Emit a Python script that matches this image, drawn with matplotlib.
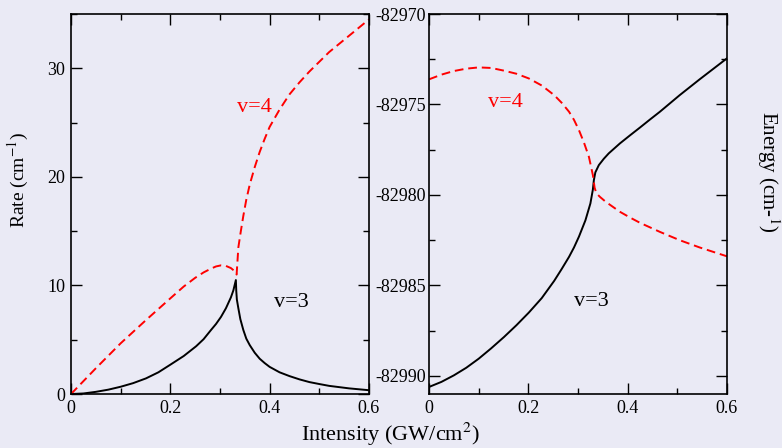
import numpy as np
import matplotlib
matplotlib.use("Agg")
from matplotlib import pyplot as plt
from matplotlib.ticker import MultipleLocator

plt.rcParams['font.family'] = ['Liberation Serif', 'DejaVu Serif']
plt.rcParams['mathtext.fontset'] = 'stix'
plt.rcParams['axes.unicode_minus'] = False

# rate vs intensity (left panel)
rate_x3 = [0, 0.025, 0.05, 0.075, 0.1, 0.125, 0.151, 0.176, 0.2, 0.227, 0.252, 0.267,
           0.282, 0.292, 0.302, 0.312, 0.322, 0.327, 0.332,
           0.3328, 0.334, 0.337, 0.341, 0.347, 0.353, 0.36, 0.37, 0.38, 0.39, 0.40,
           0.42, 0.44, 0.46, 0.48, 0.50, 0.52, 0.56, 0.6]
rate_v3 = [0, 0.05, 0.2, 0.4, 0.67, 1.0, 1.44, 2.0, 2.7, 3.5, 4.4, 5.05,
           5.9, 6.45, 7.1, 7.9, 8.9, 9.55, 10.5,
           9.5, 8.7, 7.9, 6.9, 5.9, 5.1, 4.5, 3.8, 3.25, 2.85, 2.5,
           2.0, 1.65, 1.35, 1.1, 0.92, 0.75, 0.52, 0.35]
rate_x4 = [0, 0.05, 0.1, 0.151, 0.2, 0.227, 0.25, 0.267, 0.282, 0.292, 0.302, 0.312,
           0.322, 0.330, 0.3335, 0.337, 0.342, 0.347, 0.353, 0.36, 0.37, 0.38, 0.39,
           0.40, 0.42, 0.44, 0.46, 0.48, 0.50, 0.52, 0.56, 0.6]
rate_v4 = [0, 2.37, 4.67, 6.81, 8.81, 9.9, 10.7, 11.2, 11.55, 11.75, 11.85, 11.8,
           11.6, 11.3, 11.0, 13.5, 15.0, 16.4, 17.9, 19.3, 20.9, 22.3, 23.5,
           24.6, 26.2, 27.6, 28.7, 29.7, 30.6, 31.5, 33.0, 34.5]

# energy vs intensity (right panel)
en_x3 = [0, 0.025, 0.05, 0.075, 0.1, 0.125, 0.151, 0.176, 0.201, 0.227, 0.252, 0.267,
         0.282, 0.292, 0.302, 0.315, 0.325, 0.330, 0.332, 0.335, 0.342, 0.352,
         0.362, 0.3845, 0.405, 0.425, 0.445, 0.465, 0.505, 0.545, 0.6]
en_v3 = [-82990.61, -82990.33, -82989.97, -82989.55, -82989.05, -82988.48,
         -82987.85, -82987.2, -82986.5, -82985.7, -82984.75, -82984.1,
         -82983.42, -82982.9, -82982.3, -82981.4, -82980.47, -82979.7,
         -82979.18, -82978.75, -82978.35, -82978.0, -82977.7, -82977.15,
         -82976.7, -82976.27, -82975.83, -82975.40, -82974.48, -82973.61,
         -82972.45]
en_x4 = [0, 0.025, 0.05, 0.075, 0.1, 0.125, 0.151, 0.176, 0.201, 0.227, 0.252, 0.267,
         0.282, 0.292, 0.302, 0.312, 0.322, 0.330, 0.3335, 0.337, 0.344, 0.356,
         0.37, 0.3845, 0.405, 0.425, 0.465, 0.505, 0.545, 0.6]
en_v4 = [-82973.61, -82973.35, -82973.15, -82973.02, -82972.95, -82972.98,
         -82973.13, -82973.3, -82973.56, -82973.95, -82974.48, -82974.9,
         -82975.40, -82975.85, -82976.42, -82977.1, -82977.89, -82978.9,
         -82979.6, -82979.9, -82980.1, -82980.38, -82980.65, -82980.93,
         -82981.25, -82981.54, -82982.04, -82982.50, -82982.90, -82983.39]

bg = '#EAEAF5'
fig = plt.figure(figsize=(7.82, 4.48), dpi=100, facecolor=bg)
ax1 = fig.add_axes([0.0908, 0.1205, 0.381, 0.8482], facecolor=bg)
ax2 = fig.add_axes([0.5486, 0.1205, 0.381, 0.8482], facecolor=bg)

ax1.plot(rate_x3, rate_v3, color='black', lw=1.4)
ax1.plot(rate_x4, rate_v4, color='red', lw=1.4, dashes=(4.5, 2.5))
ax1.set_xlim(0, 0.6)
ax1.set_ylim(0, 35)
ax1.yaxis.set_major_locator(MultipleLocator(10))
ax1.yaxis.set_minor_locator(MultipleLocator(5))
ax1.text(0.37, 26.4, 'v=4', color='red', fontsize=16, ha='center', va='center')
ax1.text(0.443, 8.4, 'v=3', color='black', fontsize=16, ha='center', va='center')

ax2.plot(en_x3, en_v3, color='black', lw=1.4)
ax2.plot(en_x4, en_v4, color='red', lw=1.4, dashes=(4.5, 2.5))
ax2.set_xlim(0, 0.6)
ax2.set_ylim(-82991, -82970)
ax2.yaxis.set_major_locator(MultipleLocator(5))
ax2.yaxis.set_minor_locator(MultipleLocator(2.5))
ax2.text(0.153, -82974.9, 'v=4', color='red', fontsize=16, ha='center', va='center')
ax2.text(0.327, -82985.9, 'v=3', color='black', fontsize=16, ha='center', va='center')

for ax in (ax1, ax2):
    ax.xaxis.set_minor_locator(MultipleLocator(0.1))
    ax.set_xticks([0, 0.2, 0.4, 0.6])
    ax.set_xticklabels(['0', '0.2', '0.4', '0.6'])
    ax.tick_params(which='both', direction='in', top=True, right=True,
                   labelsize=13, pad=4)
    ax.tick_params(which='major', length=8, width=1)
    ax.tick_params(which='minor', length=4, width=1)
    for s in ax.spines.values():
        s.set_linewidth(1.2)

ax2.tick_params(axis='y', pad=2)

fig.text(0.4987, 0.0, 'Intensity (GW/cm$^2$)', fontsize=16, ha='center', va='bottom')
fig.text(0.023, 0.598, 'Rate (cm$^{-1}$)', fontsize=14, rotation=90, ha='center', va='center')
fig.text(0.982, 0.617, 'Energy (cm-$^{1}$)', fontsize=15, rotation=270, ha='center', va='center')

fig.savefig('out.png', dpi=100, facecolor=bg)
